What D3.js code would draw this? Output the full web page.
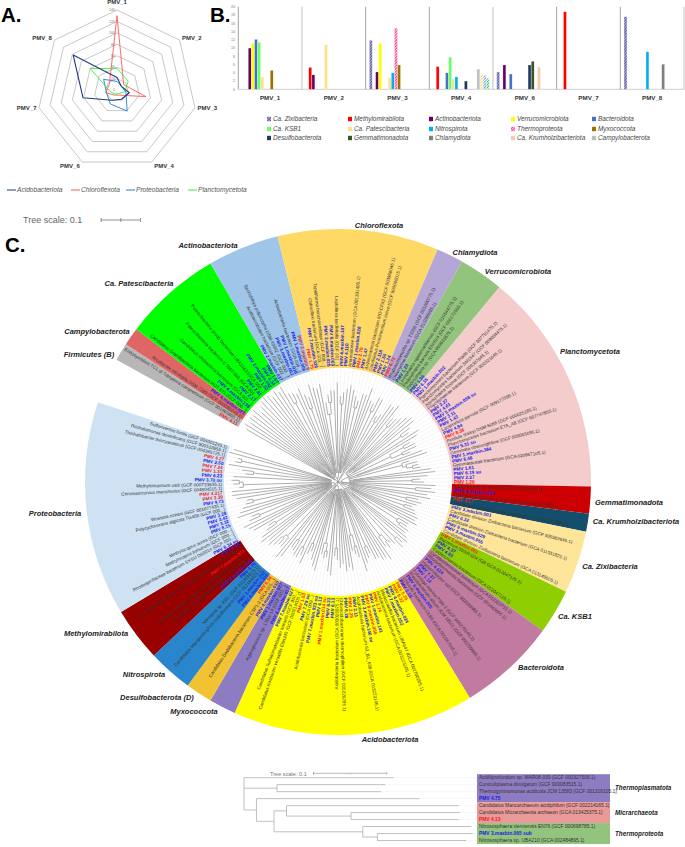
<!DOCTYPE html>
<html><head><meta charset="utf-8">
<script src="https://cdn.jsdelivr.net/npm/d3@7"></script>
<style>html,body{margin:0;padding:0;background:#fff}svg{display:block;font-family:"Liberation Sans",Arial,sans-serif}</style>
</head><body><svg id="c" width="685" height="847"></svg>
<script>
// ---------- Panel A data ----------
const radarAxes = ["PMV_1","PMV_2","PMV_3","PMV_4","PMV_6","PMV_7","PMV_8"];
const radarTicks = [0,20,40,60,80,100,120,140];
const radarAcido = [22,10,22,18,20,61,98];
const radarChloro = [130,15,52,10,10,20,17];
const radarProteo = [15,10,16,41,27,19,30];
const radarPlancto = [38,25,14,7,8,12,60];
const radarNames = ["Acidobacteriota","Chloroflexota","Proteobacteria","Planctomycetota"];
const radarColors = ["#1f3a80","#ff5a5a","#1f7fd0","#3fe83f"];

// ---------- Panel B data ----------
const barGroups = ["PMV_1","PMV_2","PMV_3","PMV_4","PMV_6","PMV_7","PMV_8"];
const barTicks = [0,2,4,6,8,10,12,14,16,18,20];
const barSeriesNames = ["Ca. Zixibacteria","Methylomirabilota","Actinobacteriota","Verrucomicrobiota","Bacteroidota","Ca. KSB1","Ca. Patescibacteria","Nitrospirota","Thermoproteota","Myxococcota","Desulfobacterota","Gemmatimonadota","Chlamydiota","Ca. Krumholzibacteriota","Campylobacterota","Thermoplasmatota","Micrarchaeota","Firmicutes"];
const barZixi   = [0,0,11.9,0,4.2,0,17.6];
const barMethyl = [0,5.3,0,5.5,0,18.8,0];
const barActino = [10,3.5,4.2,0,5.9,0,0];
const barVerru  = [11.2,0,11.2,0,0,0,0];
const barBacte  = [12.1,0,0,4,3.7,0,0];
const barKsb1   = [11.4,0,0,7.8,0,0,0];
const barPates  = [3,10.8,2.8,2.5,0,0,0];
const barNitro  = [0,0,4,3,0,0,9.1];
const barThermo = [0,0,14.8,0,0,0,0];
const barMyxo   = [4.6,0,5.9,0,0,0,0];
const barDesul  = [0,0,0,2,5.9,0,0];
const barGemma  = [0,0,0,0,6.8,0,0];
const barChlam  = [0,0,0,0,0,0,6.1];
const barKrumh  = [0,0,0,0,5.4,0,0];
const barCampy  = [0,0,0,4.9,0,0,0];
const barExtraA = [0,0,0,3.6,0,0,0];
const barExtraB = [0,0,0,3.4,0,0,0];
const barExtraC = [0,0,0,2.7,0,0,0];
const barValues = [barZixi,barMethyl,barActino,barVerru,barBacte,barKsb1,barPates,barNitro,barThermo,barMyxo,barDesul,barGemma,barChlam,barKrumh,barCampy,barExtraA,barExtraB,barExtraC];
const barColors = ["#8b8bc4","#ff0000","#660066","#ffff00","#4472c4","#66ff66","#ffe08a","#00b0f0","#ff3399","#997300","#1f3864","#375623","#7f7f7f","#f8cbad","#bfbfbf","#ffd966","#6f9be0","#33cc66"];
const barHatched = ["Ca. Zixibacteria","Thermoproteota","Thermoplasmatota","Micrarchaeota","Firmicutes"];
const barLegendCount = 15;

// ---------- Panel C data: clades, in clockwise order ----------
const cladeNames = ["Firmicutes (B)","Campylobacterota","Ca. Patescibacteria","Actinobacteriota","Chloroflexota","Chlamydiota","Verrucomicrobiota","Planctomycetota","Gemmatimonadota","Ca. Krumholzibacteriota","Ca. Zixibacteria","Ca. KSB1","Bacteroidota","Acidobacteriota","Myxococcota","Desulfobacterota (D)","Nitrospirota","Methylomirabilota","Proteobacteria"];
const cladeColors = ["#b7b7b7","#e06666","#00ff00","#9fc5e8","#ffd966","#b4a7d6","#93c47d","#f4cccc","#cc0000","#134f6c","#ffe599","#8fce00","#c27ba0","#ffff00","#8e7cc3","#f1c232","#2986cc","#990000","#cfe2f3"];
const firmLeaves = ["PMV 4.11","Endosymbiont TC1 of Trimyema compressum (GCF 001969895.1)"];
const campLeaves = ["Arcobacter nitrofigilis DSM 7299 (GCF 000092245.1)","PMV 4.maxbin.023"];
const pateLeaves = ["Candidatus Gracilibacteria bacterium HOT-871 (GCF 000...)","PMV 4.maxbin.138","Candidatus Uhrbacteria bacterium (GCA 001...)","PMV 2.17","Patescibacteria bacterium C7867-003 (GCA 001...)","PMV 2.81","Patescibacteria group bacterium UBA2163 (GCA 002...)","PMV 1.52","PMV 2.maxbin.042","PMV 3.34","PMV 1.57"];
const actiLeaves = ["PMV 2.maxbin.037","Acidimicrobiales bacterium (GCF 003...)","Sporichthya polymorpha DSM 43042 (GCF 000...)","PMV 3.maxbin.062","PMV 1.maxbin.016","Actinobacteria bacterium (GCA 009...)","PMV 1.maxbin.006","PMV 2.maxbin.8"];
const chloLeaves = ["PMV 1.75","PMV 7.maxbin.026","Chloroflexi bacterium (GCA 003...)","Tepidiforma bonchosmithiae (GCF 008...)","PMV 2.maxbin.025","PMV 6.maxbin.003","Leptolinea tardivitalis (GCF 001...)","PMV 4.maxbin.107","PMV 4.110","Anaerolineae bacterium (GCA 001331405.1)","PMV 1.maxbin.028","PMV 2.79","PMV 1.47","Ardenticatenia bacterium MO-CFX2 (GCF 003986045.1)","Candidatus Promineofilum breve (GCF 900066015.1)","PMV 2.118","PMV 1.50","PMV 1.24"];
const chlaLeaves = ["PMV 6.73","Rhabdochlamydia sp. T3358 (GCF 001000775.1)","Chlamydiae bacterium (GCA 013286985.1)"];
const verrLeaves = ["PMV 1.23","Limisphaera ngatamarikiensis (GCF 010544775.1)","Pedosphaera parvula Ellin514 (GCF 000172555.1)","Pedosphaera sp. (GCA 009691675.1)","PMV 1.36"];
const planLeaves = ["PMV 6.15","PMV 1.maxbin.002","Planctomycetes bacterium Pla86 (GCF 007751475.1)","Planctomycetes bacterium SM1547 (GCF 009004475.1)","Aquisphaera fontina (GCF 008307645.1)","Phycisphaerae bacterium (GCF 900321645.1)","PMV 2.27","PMV 4.61","PMV 5.maxbin.058 sub","PMV 3.11","PMV 1.43","Lacipirellula parvula (GCF 009177095.1)","PMV 4.94","PMV 8.38","Pirellula staleyi DSM 6068 (GCF 000025185.1)","Planctomycetes bacterium ETA_A8 (GCF 007747855.1)","PMV 5.31 sub","Gemmata obscuriglobus (GCF 008065095.1)","PMV 1.maxbin.384","PMV 6.48","Gemmataceae bacterium (GCA 020867105.1)","PMV 1.61","PMV 6.19 sub","PMV 2.37","PMV 1.26"];
const gemmLeaves = ["Longimicrobium terrae (GCF 014202995.1)","PMV 6.maxbin.029","Gemmatimonadetes bacterium (GCA 012027095.1)"];
const krumLeaves = ["PMV 4.17","Candidatus Latescibacteria bacterium (GCA 011772205.1)"];
const zixiLeaves = ["PMV 3.maxbin.001","Candidate division Zixibacteria bacterium (GCF 905982645.1)","PMV 6.32b","Candidate division Zixibacteria bacterium (GCA 011331825.1)","PMV 6.maxbin.028","PMV 3.maxbin.055","Candidate division Zixibacteria bacterium (GCA 013149605.1)"];
const ksb1Leaves = ["PMV 1.maxbin.061","Bacterium SbSR-024 (GB GCA 012047125.1)","PMV 4.37","PMV 4.83","Calditrichaeota bacterium (GCA 012047125.1)"];
const bactLeaves = ["Cyclobacteriaceae bacterium (GCA 012323715.1)","Rhodothermaeota bacterium (GCF 001443605.1)","PMV 4.124","Hymenobacter sali (GCF 002589965.1)","PMV 7.37","PMV 1.12","Fulvivirga marina PSM-1 (GCF 000276145.1)","Flavobacterium album JCM 18511 (GCF 002259965.1)","PMV 6.maxbin.005","Chlorobi bacterium OLB5 (GCA 001567545.1)","PMV 1.18"];
const acidLeaves = ["PMV 5.25","PMV 6.32","PMV 4.maxbin.024","PMV 7.maxbin.052","Blastocatellia bacterium UBA647 (GCA 002700205.1)","Acidobacteria bacterium (GCA 003223205.1)","PMV 2.74","PMV 1.maxbin.141","PMV 8.maxbin.066","PMV 3.maxbin.140 sub","Acidobacteria bacterium 63_B1_638 (GCA 003223145.1)","PMV 2.11","PMV 2.25","PMV 6.28","Chloracidobacterium thermophilum (GCF 000226295.1)","Acidobacteria bacterium (GCA 003025875.1)","PMV 6.13","PMV 8.33","PMV 1.maxbin.014 sub","PMV 4.12","PMV 7.maxbin.023 sub","Acidobacteria bacterium (GCA 009...)","PMV 7.29 sub","PMV 1.53","Candidatus Koribacter versatilis Ellin345 (GCF 000014005.1)","Candidatus Sulfotelmatobacter kueselii (GCF 900...)","PMV 7.maxbin.027"];
const myxoLeaves = ["PMV 6.maxbin.017","Aggregicoccus sp. 17bor-14 (GCF 003...)","PMV 1.maxbin.027"];
const desuLeaves = ["PMV 4.maxbin.010","Candidatus Dadabacteria bacterium CSP1-2 (GCA 001...)","PMV 6.34"];
const nitrLeaves = ["PMV 4.maxbin.028","PMV 1.maxbin.032","Candidatus Manganitrophus noduliformans (GCF 012184425.1)","Nitrospira sp. KM1 (GCF 011489915.1)","PMV 4.74"];
const methLeaves = ["PMV 8.maxbin.043","Candidatus Rokubacteria bacterium (GCA 003...)","Candidatus Methylomirabilis lanthanidiphila (GCA 002...)","PMV 7.maxbin.071","Fermentibacter division NC10 bacterium CSP1-5 (GCA 001...)","PMV 4.49"];
const protLeaves = ["PMV 8.34 sub","Rhodospirillaceae bacterium SYSU D60014 (GCF 003...)","Methylocapsa palsarum (GCF 900...)","Methylocapsa aurea (GCF 000...)","PMV 8.15","PMV 3.32","PMV 3.42","PMV 3.28","Polycyclovorans algicola TG408 (GCF 000...)","Woeseia oceani (GCF 001677435.1)","PMV 4.73","PMV 3.39","PMV 4.317","Chromatocurvus marismortui (GCF 004804515.1)","Methylomarinum vadi (GCF 000733935.1)","PMV 3.70 sub","PMV 6.23","PMV 1.33","PMV 7.24","PMV 2.60","PMV 4.27","Thiohalobacter thiocyanaticus (GCF 004365725.1)","Thiohalomonas denitrificans (GCF 900102855.1)","Sulfurivermis fontis (GCF 004001245.1)"];
const cladeLeaves = [firmLeaves,campLeaves,pateLeaves,actiLeaves,chloLeaves,chlaLeaves,verrLeaves,planLeaves,gemmLeaves,krumLeaves,zixiLeaves,ksb1Leaves,bactLeaves,acidLeaves,myxoLeaves,desuLeaves,nitrLeaves,methLeaves,protLeaves];
const redLabels = ["PMV 4.11","PMV 2.maxbin.8","PMV 1.75","PMV 2.79","PMV 6.73","PMV 8.38","PMV 1.26","PMV 4.17","PMV 1.maxbin.061","PMV 5.25","PMV 6.32","PMV 2.74","PMV 8.maxbin.066","PMV 2.25","PMV 1.maxbin.014 sub","PMV 1.53","PMV 6.34","PMV 7.maxbin.071","PMV 3.39","PMV 4.317","PMV 1.33","PMV 7.24","PMV 4.27"];
// branch lengths (units of 0.01 substitutions/site), nested per clade, leaves in the order above
const cladeBranches = [
 "(24,25):2","(25,26):1",
 "((25,26):1,(24,((22,23):1,25):2):1,(26,(24,25):1):1,(25,26):1):0.5",
 "((3,2.5):21,(18,19):5,(4,3):18,(23,22):1):1",
 "((20,21):2,(3,(2,3):3):15,(19,21):2,((2,3):16,20):1.5,(22,21):0.5,(3,2):17,(20,(19,21,18):1):1):1.5",
 "((2,4):17,21):2",
 "((1.5,2.5):14,(19,(17,18):2):1):3",
 "((2.5,3):16,(19,20):1,(21,(20,(3,2):15):1):1,(20,19):1.5,((2,3):4,(4,2):3):12,(18,19):2,(2,(3,(1.5,2):1.5):1):14,(20,21):1,(19,(2,3):15):1):2",
 "(22,(4,5):17):2","(20,21):2",
 "((3,4):15,(17,(2,3):14):1,(18,19):0.5):2",
 "((18,19):1,(3,(2,3):1):15):2",
 "((17,18):2,(20,(2,3):17):1,19,((1,2):2,3):15,(21,20):0.5):1.5",
 "((20,19):1,(18,(2,3):14):2,(19,21):1,((3,2):3,4):12,(20,(18,19):1):1,(17,18):2,(3,2):15,(21,20):1,((1.5,2):2,3):14,(20,19):1.5,(18,(2,3):14):1):1",
 "(20,(2,3):16):2","(19,(3,2.5):15):2",
 "((20,21):1,(3,(2,3):1):16):2",
 "((20,19):2,(22,21):1,(3,2):17):1",
 "((22,23):1,(24,(3,2):19):1,(25,24):0.5,(23,(2,1.5):20):0.5,(24,25):0.5,(25,(1,(1.5,2):1):22):0.5,(24,(2,3):19):1,(26,(1.5,1):23):0.5,(27,26):0.2):0.8"
];
const cladeBackbone = [[0,1,2],[3,4],[5,6],[7,8,9],[10,11],[12],[13,14,15],[16,17,18]];

// ---------- Archaeal tree (lower panel) ----------
const archaeaNewick = "(Acidiliprofundum sp. MAR08-339 (GCF 000327505.1):0.204,(Cuniculiplasma divulgatum (GCF 900083515.1):0.148,Thermogymnomonas acidicola JCM 13583 (GCF 001316105.1):0.142):0.045,(PMV 4.75:0.222,((Candidatus Mancarchaeum acidiphilum (GCF 002214165.1):0.235,(Candidatus Micrarchaeota archaeon (GCA 013425375.1):0.149,PMV 4.13:0.147):0.088):0.017,(Nitrososphaera viennensis EN76 (GCF 000698785.1):0.148,(PMV 3.maxbin.065 sub:0.130,Nitrososphaera sp. UBA210 (GCA 002484895.1):0.121):0.02):0.121):0.024):0.017)";
const archaeaGroups = ["Thermoplasmatota","Micrarchaeota","Thermoproteota"];
const archaeaGroupSizes = [4,3,3];
const archaeaGroupColors = ["#8e7cc3","#ea9999","#93c47d"];
const archaeaBlue = ["PMV 4.75","PMV 3.maxbin.065 sub"];
const archaeaRed = ["PMV 4.13"];
const treeScaleLabel = "Tree scale: 0.1";

// ---------- helpers ----------
const svg = d3.select("#c");
const deg = Math.PI/180;
function parseBranches(s){ // compact "(a,(b,c):d):e" notation, with optional "name:len" leaves
  let i=0;
  function node(){
    if(s[i]==="("){
      i++; const children=[];
      while(true){children.push(node()); if(s[i]===","){i++;continue;} break;}
      i++; let len=0;
      if(s[i]===":"){i++; const st=i; while(i<s.length&&!/[,)]/.test(s[i]))i++; len=+s.slice(st,i);}
      return {children,len};
    }
    let depth=0; const st=i;
    while(i<s.length&&(depth>0||!/[,)]/.test(s[i]))){ if(s[i]==="(")depth++; if(s[i]===")")depth--; i++; }
    const tok=s.slice(st,i); const c=tok.lastIndexOf(":");
    if(c<0) return {len:+tok};
    return {name:tok.slice(0,c),len:+tok.slice(c+1)};
  }
  return node();
}
function flattenLeaves(n,out){ if(n.children) n.children.forEach(c=>flattenLeaves(c,out)); else out.push(n); return out; }

// ---------- Big letters ----------
const letters=[["A.",1,22],["B.",210,22],["C.",5,252]];
svg.selectAll("text.letter").data(letters).join("text").attr("class","letter")
  .attr("y",d=>d[2]).text(d=>d[0]).attr("x",d=>d[1])
  .attr("font-size",20.5).attr("font-weight","bold").attr("fill","#000");

// ---------- Panel A: radar ----------
(function(){
  const cx=117, cy=90, R=80;
  const r=d3.scaleLinear().domain([0,140]).range([0,R]);
  const ang=d3.scalePoint().domain(radarAxes.concat(["_"])).range([0,2*Math.PI]);
  const g=svg.append("g").attr("transform",`translate(${cx},${cy})`);
  const ring=v=>d3.lineRadial().angle(a=>ang(a)).radius(()=>r(v)).curve(d3.curveLinearClosed)(radarAxes);
  g.selectAll("path.ring").data(radarTicks.slice(1)).join("path").attr("d",ring).attr("fill","none").attr("stroke","#b0b0b0").attr("stroke-width",0.7);
  g.selectAll("text.tk").data(radarTicks).join("text").attr("x",-2).attr("y",d=>-r(d)+1.2).attr("text-anchor","end")
    .attr("font-size",3.6).attr("fill","#777").text(d=>d);
  const series=[radarAcido,radarChloro,radarProteo,radarPlancto];
  const line=d3.lineRadial().angle((d,i)=>ang(radarAxes[i])).radius(d=>r(d)).curve(d3.curveLinearClosed);
  [2,1,3,0].forEach(k=>g.append("path").attr("d",line(series[k])).attr("fill","none").attr("stroke",radarColors[k]).attr("stroke-width",k==0?1.1:0.9).attr("stroke-linejoin","round"));
  radarAxes.forEach((a,i)=>{
    const t=ang(a), vx=R*Math.sin(t), vy=-R*Math.cos(t);
    const side=Math.sin(t)>0.1?1:Math.sin(t)<-0.1?-1:0;
    g.append("text").text(a).attr("x",vx+side*2.5).attr("y",vy+(i==0?-6:Math.abs(vy)>60&&vy>0?6:vy<0?0:2))
      .attr("text-anchor",side>0?"start":side<0?"end":"middle").attr("font-size",6).attr("font-weight","bold").attr("fill","#333");
  });
  const lg=svg.append("g").attr("class","radar-legend");
  const lx=[7,71,126,188], lw=9;
  radarNames.forEach((n,i)=>{
    lg.append("line").attr("x1",lx[i]).attr("x2",lx[i]+lw).attr("y1",190).attr("y2",190).attr("stroke",radarColors[i]).attr("stroke-width",1);
    lg.append("text").text(n).attr("x",lx[i]+lw+1).attr("y",192).attr("font-size",6.6).attr("font-style","italic").attr("fill","#555");
  });
})();

// ---------- Panel B: bars ----------
(function(){
  const defs=svg.append("defs");
  const x0=d3.scaleBand().domain(barGroups).range([238.3,684]).padding(0);
  const x1=d3.scaleBand().domain(d3.range(18)).range([3.6,x0.bandwidth()-3.6]);
  const y=d3.scaleLinear().domain([0,20]).range([89.3,6.8]);
  barSeriesNames.forEach((n,i)=>{
    if(barHatched.includes(n)){
      const p=defs.append("pattern").attr("id","h"+i).attr("width",2).attr("height",2).attr("patternUnits","userSpaceOnUse").attr("patternTransform","rotate(45)");
      p.append("rect").attr("width",2).attr("height",2).attr("fill",i==8?"#ffd0e6":i==0?"#a9a9d8":"#fff");
      p.append("rect").attr("width",1).attr("height",2).attr("fill",i==0?"#5d5da0":barColors[i]);
    }
  });
  const fill=i=>barHatched.includes(barSeriesNames[i])?`url(#h${i})`:barColors[i];
  const g=svg.append("g");
  g.selectAll("line.sep").data(barGroups.concat(["_"])).join("line")
    .attr("x1",(d,i)=>238.3+i*x0.bandwidth()).attr("x2",(d,i)=>238.3+i*x0.bandwidth())
    .attr("y1",y(20)).attr("y2",y(0)).attr("stroke",(d,i)=>i%3==1?"#bbb":"#999").attr("stroke-width",0.9);
  g.append("line").attr("x1",238.3).attr("x2",684).attr("y1",y(0)).attr("y2",y(0)).attr("stroke","#bbb").attr("stroke-width",0.7);
  g.selectAll("text.tk").data(barTicks).join("text").attr("x",235).attr("y",d=>y(d)+1.2).attr("text-anchor","end").attr("font-size",3.6).attr("fill","#777").text(d=>d);
  barValues.forEach((vals,s)=>{
    g.selectAll("rect.s"+s).data(vals.map((v,i)=>({v,i})).filter(d=>d.v>0)).join("rect")
      .attr("x",d=>x0(barGroups[d.i])+x1(s)+0.1).attr("width",x1.bandwidth()-0.2)
      .attr("y",d=>y(d.v)).attr("height",d=>y(0)-y(d.v)).attr("fill",fill(s)).attr("stroke","#fff").attr("stroke-width",0.25);
  });
  g.selectAll("text.grp").data(barGroups).join("text").attr("x",d=>x0(d)+x0.bandwidth()/2).attr("y",100)
    .attr("text-anchor","middle").attr("font-size",6.2).attr("font-weight","bold").attr("fill","#333").text(d=>d);
  const colX=[267,348,429,511,592], rowY=[119,129,138];
  barSeriesNames.slice(0,barLegendCount).forEach((n,i)=>{
    const cx=colX[i%5], cy=rowY[Math.floor(i/5)];
    g.append("rect").attr("x",cx).attr("y",cy-2.2).attr("width",4).attr("height",4.4).attr("fill",fill(i));
    g.append("text").text(n).attr("x",cx+6).attr("y",cy+2.2).attr("font-size",6.4).attr("font-style","italic").attr("fill","#444");
  });
})();

// ---------- Panel C: circular tree ----------
(function(){
  const cx=338, cy=482, rOuter=253, rInner=114, rTip=113, startDeg=-61.1, spanDeg=349.5;
  const scaleR=d3.scaleLinear().domain([0,1]).range([0,3.9]); // one unit = 0.01
  const root={len:0,children:cladeBackbone.map(grp=>({len:1,children:grp.map(k=>{
    const t=parseBranches(cladeBranches[k]);
    flattenLeaves(t,[]).forEach((l,i)=>{l.name=cladeLeaves[k][i];l.clade=k;});
    return t;
  })}))};
  const h=d3.hierarchy(root,d=>d.children);
  d3.cluster().size([spanDeg,1]).separation(()=>1)(h);
  h.eachBefore(n=>{n.dist=(n.parent?n.parent.dist:0)+(n.data.len||0); n.angle=(n.x+startDeg)*deg; n.rad=scaleR(n.dist);});
  const leaves=h.leaves();
  const half=spanDeg/leaves.length/2*deg;
  const g=svg.append("g").attr("transform",`translate(${cx},${cy})`);
  const arc=d3.arc();
  const byClade=d3.group(leaves,l=>l.data.clade);
  cladeNames.forEach((n,k)=>{
    const ls=byClade.get(k);
    g.append("path").attr("d",arc({innerRadius:rInner,outerRadius:rOuter,startAngle:ls[0].angle-half,endAngle:ls[ls.length-1].angle+half})).attr("fill",cladeColors[k]);
  });
  const pol=(a,r)=>[r*Math.sin(a),-r*Math.cos(a)];
  // dotted extensions
  g.selectAll("line.ext").data(leaves).join("line")
    .attr("x1",d=>pol(d.angle,d.rad)[0]).attr("y1",d=>pol(d.angle,d.rad)[1])
    .attr("x2",d=>pol(d.angle,rTip)[0]).attr("y2",d=>pol(d.angle,rTip)[1])
    .attr("stroke","#d8d8d8").attr("stroke-width",0.5).attr("stroke-dasharray","1,1");
  // branches
  const bp=[];
  h.each(n=>{
    if(n.parent){const p=d3.path();const a=pol(n.angle,n.parent.rad),b=pol(n.angle,n.rad);p.moveTo(a[0],a[1]);p.lineTo(b[0],b[1]);bp.push(p.toString());}
    if(n.children&&n.children.length>1&&n.rad>0){
      const a0=n.children[0].angle,a1=n.children[n.children.length-1].angle;
      const p=d3.path();p.arc(0,0,n.rad,a0-Math.PI/2,a1-Math.PI/2,false);bp.push(p.toString());
    }
  });
  g.append("path").attr("d",bp.join("")).attr("fill","none").attr("stroke","#8c8c8c").attr("stroke-width",0.7);
  // leaf labels
  g.selectAll("text.leaf").data(leaves).join("text")
    .attr("transform",d=>{
      const a=d.angle/deg, right=Math.sin(d.angle)>=0;
      return `rotate(${a-90}) translate(${rInner+2},0)`+(right?"":" rotate(180)");
    })
    .attr("text-anchor",d=>Math.sin(d.angle)>=0?"start":"end").attr("dy","0.35em")
    .attr("font-size",d=>/^PMV/.test(d.data.name)?4.7:4.6)
    .attr("font-weight",d=>/^PMV/.test(d.data.name)?"bold":"normal")
    .attr("fill",d=>/^PMV/.test(d.data.name)?(redLabels.includes(d.data.name)?"#ee1c1c":"#2020e0"):"#333")
    .text(d=>d.data.name.replace(/b$/,""));
  // clade labels (placed by hand as in the figure)
  const labelAt=[[89,354],[97,331],[139,283],[208,245],[379,225],[475,252],[518,271],[590,351],[629,502],[636,521],[610,566],[575,616],[541,667],[390,739],[194,711],[157,697],[144,674],[96,633],[55,513]];
  svg.selectAll("text.clade").data(cladeNames).join("text").attr("class","clade")
    .attr("x",(d,i)=>labelAt[i][0]).attr("y",(d,i)=>labelAt[i][1]+2.8).attr("text-anchor","middle")
    .attr("font-size",7.5).attr("font-weight","bold").attr("font-style","italic").attr("fill","#222").text(d=>d);
  // scale
  svg.append("text").text(treeScaleLabel).attr("x",23).attr("y",223).attr("font-size",9).attr("fill","#666");
  const sc=d3.scaleLinear().domain([0,0.1]).range([100.7,140]);
  const ax=d3.axisBottom(sc).tickValues([0,0.05,0.1]).tickSize(2).tickFormat("");
  const ag=svg.append("g").attr("transform","translate(0,220)").call(ax);
  ag.selectAll("path").attr("stroke","#666").attr("stroke-width",0.7).attr("d","M100.7,0H140");
  ag.selectAll("line").attr("stroke","#666").attr("stroke-width",0.7).attr("y1",-2).attr("y2",2);
})();

// ---------- Lower panel: archaeal tree ----------
(function(){
  const x=d3.scaleLinear().domain([0,0.1]).range([244,317.3]);
  const y0=777.7, step=6.98;
  const root=d3.hierarchy(parseBranches(archaeaNewick),d=>d.children);
  const leaves=root.leaves();
  const yS=d3.scaleLinear().domain([0,leaves.length-1]).range([y0,y0+step*(leaves.length-1)]);
  leaves.forEach((l,i)=>l.py=yS(i));
  root.eachAfter(n=>{if(n.children)n.py=(n.children[0].py+n.children[n.children.length-1].py)/2;});
  root.eachBefore(n=>{n.dist=(n.parent?n.parent.dist:0)+(n.data.len||0);});
  const g=svg.append("g");
  let off=0;
  archaeaGroups.forEach((n,i)=>{
    g.append("rect").attr("x",477).attr("width",133).attr("y",yS(off)-3.5).attr("height",step*archaeaGroupSizes[i]).attr("fill",archaeaGroupColors[i]);
    g.append("text").text(n).attr("x",615).attr("y",yS(off)+step*(archaeaGroupSizes[i]-1)/2+2.2).attr("font-size",6.3).attr("font-weight","bold").attr("font-style","italic").attr("fill","#222");
    off+=archaeaGroupSizes[i];
  });
  g.selectAll("line.ext2").data(leaves).join("line").attr("x1",d=>x(d.dist)).attr("x2",477).attr("y1",d=>d.py).attr("y2",d=>d.py)
    .attr("stroke","#ddd").attr("stroke-width",0.5).attr("stroke-dasharray","1,1");
  const p=d3.path();
  root.each(n=>{
    if(n.parent){p.moveTo(x(n.parent.dist),n.py);p.lineTo(x(n.dist),n.py);}
    if(n.children){p.moveTo(x(n.dist),n.children[0].py);p.lineTo(x(n.dist),n.children[n.children.length-1].py);}
  });
  g.append("path").attr("d",p.toString()).attr("fill","none").attr("stroke","#b0b0b0").attr("stroke-width",0.8);
  g.selectAll("text.al").data(leaves).join("text").attr("x",479).attr("y",d=>d.py+1.6).attr("font-size",4.9)
    .attr("font-weight",d=>/^PMV/.test(d.data.name)?"bold":"normal")
    .attr("fill",d=>archaeaBlue.includes(d.data.name)?"#2020e0":archaeaRed.includes(d.data.name)?"#ee1c1c":"#333")
    .text(d=>d.data.name);
  svg.append("text").text(treeScaleLabel).attr("x",270).attr("y",775.5).attr("font-size",5.6).attr("fill","#777");
  const sc=d3.scaleLinear().domain([0,0.1]).range([313,386.3]);
  const ag=svg.append("g").attr("transform","translate(0,773.3)").call(d3.axisBottom(sc).tickValues([0,0.05,0.1]).tickFormat(""));
  ag.selectAll("path").attr("stroke","#999").attr("stroke-width",0.7).attr("d","M313,0H386.3");
  ag.selectAll("line").attr("stroke","#999").attr("stroke-width",0.7).attr("y1",d=>d==0.05?0:-1.5).attr("y2",d=>d==0.05?1:1.5);
})();
</script></body></html>
